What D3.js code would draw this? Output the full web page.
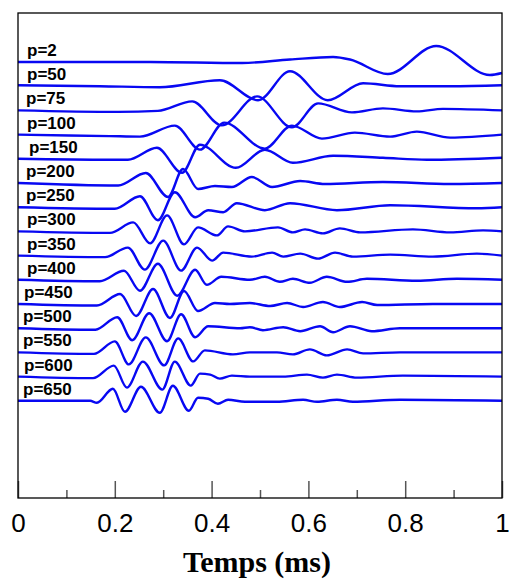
<!DOCTYPE html>
<html><head><meta charset="utf-8">
<script src="https://cdn.jsdelivr.net/npm/d3@7/dist/d3.min.js"></script>
<style>body{margin:0;background:#fff}</style>
</head><body>
<svg id="c" width="509" height="579"></svg>
<script>
// ---- data: [time (ms), amplitude (a.u.)] ----
const labels = ["p=2","p=50","p=75","p=100","p=150","p=200","p=250","p=300","p=350","p=400","p=450","p=500","p=550","p=600","p=650"];
const p2 = [[0,0],[0.273,0],[0.463,-1],[0.562,2.5],[0.651,5],[0.686,2.5],[0.764,-12],[0.864,16],[0.975,-13],[1,-11]];
const p50 = [[0,1],[0.169,0],[0.293,-1],[0.417,6],[0.496,-14],[0.562,15],[0.640,-14],[0.713,3],[0.789,0],[0.893,0],[1,1]];
const p75 = [[0,0],[0.207,-1.5],[0.289,-0.5],[0.360,9],[0.421,-15],[0.494,14],[0.566,-17],[0.620,7],[0.690,-2],[0.754,2],[0.824,-1],[0.878,1.5],[1,0]];
const p100 = [[0,0],[0.190,-1.5],[0.252,-2],[0.324,9],[0.376,-15],[0.426,12],[0.510,-14],[0.566,9],[0.628,-4],[0.696,2],[0.769,-2],[0.824,3],[0.893,-3],[1,0]];
const p150 = [[0,0],[0.190,-1],[0.227,-1],[0.287,11],[0.339,-14],[0.376,14],[0.450,-9],[0.510,9],[0.568,-4],[0.651,3],[0.754,1],[0.845,-1],[1,1]];
const p200 = [[0,0],[0.207,-2.5],[0.264,10],[0.310,-14],[0.341,14],[0.372,-6],[0.407,-3],[0.442,-4],[0.483,6],[0.525,-4],[0.583,2],[0.634,-1],[0.754,1],[0.893,-1],[1,0]];
const p250 = [[0,0],[0.200,-1.5],[0.252,11],[0.289,-13],[0.324,15],[0.366,-10],[0.393,-3],[0.424,-5],[0.452,4],[0.510,-3],[0.562,4],[0.659,-3],[0.769,2],[0.948,-1],[1,0]];
const p300 = [[0,0],[0.190,-1.5],[0.238,9],[0.273,-12],[0.308,16],[0.343,-13],[0.372,4],[0.411,-4],[0.434,5],[0.469,0],[0.537,4],[0.568,-1],[0.593,2],[0.630,-2],[0.665,3],[0.707,-1],[0.816,2],[0.893,-1],[0.961,1],[1,0]];
const p350 = [[0,0],[0.180,-1.5],[0.227,8],[0.262,-14],[0.300,15],[0.337,-15],[0.370,8],[0.401,-5],[0.424,3],[0.483,-1],[0.525,3],[0.548,-1],[0.583,2],[0.620,-3],[0.655,3],[0.692,-1],[0.769,1],[0.857,-1],[0.948,2],[1,0]];
const p400 = [[0,0],[0.169,-1.5],[0.219,9],[0.252,-11],[0.289,16],[0.329,-16],[0.366,10],[0.390,-5],[0.420,3],[0.479,0],[0.510,3],[0.541,-2],[0.568,1],[0.603,-3],[0.638,3],[0.680,-2],[0.721,1],[0.824,-1],[0.907,1],[1,0]];
const p450 = [[0,0],[0.163,-1.5],[0.211,10],[0.244,-12],[0.279,15],[0.314,-14],[0.343,13],[0.372,-7],[0.407,1],[0.438,0],[0.479,1],[0.521,-2],[0.556,1],[0.589,-3],[0.630,2],[0.665,-3],[0.711,2],[0.742,-1],[0.857,0],[1,0]];
const p500 = [[0,0],[0.160,-1.5],[0.205,11],[0.236,-12],[0.271,15],[0.308,-13],[0.337,14],[0.366,-9],[0.393,2],[0.459,0],[0.479,1],[0.506,-2],[0.548,1],[0.583,-3],[0.624,2],[0.651,-4],[0.686,2],[0.731,-3],[0.789,0],[1,0]];
const p550 = [[0,0],[0.157,-1.5],[0.200,11],[0.229,-12],[0.264,15],[0.302,-13],[0.331,14],[0.362,-9],[0.386,2],[0.444,-2],[0.479,0],[0.535,0],[0.568,-2],[0.603,3],[0.638,-3],[0.680,3],[0.713,-1],[0.789,0],[1,0]];
const p600 = [[0,0],[0.155,-1.5],[0.198,11],[0.225,-11],[0.258,15],[0.298,-13],[0.324,15],[0.357,-9],[0.376,3],[0.397,2],[0.417,-2],[0.442,1],[0.479,0],[0.548,0],[0.597,2],[0.630,-1],[0.659,2],[0.700,-1],[0.795,1],[1,0]];
const p650 = [[0,0],[0.149,0],[0.163,-2],[0.196,12],[0.221,-11],[0.254,14],[0.293,-12],[0.320,15],[0.353,-10],[0.372,3],[0.393,2],[0.413,-3],[0.434,1],[0.469,-1],[0.535,-1],[0.589,1],[0.618,-1],[0.659,1],[0.692,-1],[0.789,1],[1,0]];
const series = [p2,p50,p75,p100,p150,p200,p250,p300,p350,p400,p450,p500,p550,p600,p650];
const xMajorTicks = [0,0.2,0.4,0.6,0.8,1];
const xMinorTicks = [0.1,0.3,0.5,0.7,0.9];
const traceSpacing = 24.2;   // vertical offset between traces (a.u.)
const yTop = 49, yBottom = -436; // a.u. range of the frame

// ---- layout ----
const labelX = [27,27,26,27,29,26,26,27,27,27,24,23,23,24,23];
const svg = d3.select("#c");
const x = d3.scaleLinear().domain([0,1]).range([18,502]);
const y = d3.scaleLinear().domain([yBottom,yTop]).range([498,13]);

const line = d3.line().curve(d3.curveMonotoneX);

const g = svg.append("g");
series.forEach((s,i)=>{
  const off = -i*traceSpacing;
  g.append("path")
    .attr("d", line.x(d=>x(d[0])).y(d=>y(off+d[1]))(s))
    .attr("fill","none").attr("stroke","#0808f2").attr("stroke-width",2.4)
    .attr("stroke-linejoin","round");
  g.append("text")
    .attr("x", labelX[i]).attr("y", y(off)-6)
    .attr("font-family","Liberation Sans, Arial, sans-serif")
    .attr("font-weight","bold").attr("font-size",17)
    .attr("fill","#000").text(labels[i]);
});

// axis
const axMajor = d3.axisBottom(x).tickValues(xMajorTicks).tickSize(-17).tickPadding(16).tickFormat(d3.format("~g"));
const axMinor = d3.axisBottom(x).tickValues(xMinorTicks).tickSize(-8).tickFormat("");
const ga = svg.append("g").attr("transform","translate(0,498)").call(axMajor);
const gm = svg.append("g").attr("transform","translate(0,498)").call(axMinor);
[ga,gm].forEach(a=>{
  a.select(".domain").remove();
  a.selectAll(".tick line").attr("stroke","#555").attr("stroke-width",1.5);
});
ga.selectAll(".tick text").attr("font-family","Liberation Sans, Arial, sans-serif").attr("font-size",26).attr("fill","#000");

// frame
svg.append("rect").attr("x",18).attr("y",13).attr("width",484).attr("height",485)
  .attr("fill","none").attr("stroke","#000").attr("stroke-width",1.3);

svg.append("text").attr("x",257).attr("y",572).attr("text-anchor","middle")
  .attr("font-family","Liberation Serif, Times New Roman, serif").attr("font-weight","bold")
  .attr("font-size",30).text("Temps (ms)");
</script>
</body></html>
